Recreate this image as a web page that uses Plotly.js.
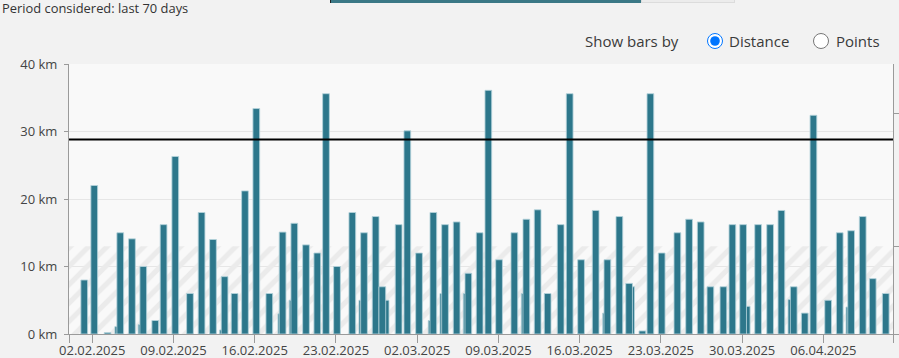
<!DOCTYPE html>
<html>
<head>
<meta charset="utf-8">
<script src="https://cdn.plot.ly/plotly-3.0.1.min.js"></script>
<style>
  html, body { margin:0; padding:0; background:#f2f2f2; }
  #wrap { position:relative; width:899px; height:358px; overflow:hidden; font-family:"Open Sans", sans-serif; }
  #chart { position:absolute; left:0; top:0; width:899px; height:358px; }
  .ov { position:absolute; white-space:nowrap; color:#333; z-index:5; }
  #period { left:2px; top:1px; font-size:12.9px; line-height:14px; color:#333; }
  #prog { left:330px; top:0; width:310px; height:3px; background:#3b7886; border-left:1px solid #222; }
  #prog2 { left:641px; top:0; width:92px; height:2px; background:#ececec; border:1px solid #dcdcdc; border-top:none; }
  #showby { left:585px; top:31px; font-size:15px; line-height:20px; color:#3a3a3a; }
  .radio { position:absolute; z-index:5; margin:0; width:16px; height:16px; }
  #r1 { left:707px; top:33px; }
  #r2 { left:813px; top:33px; }
  #l1 { left:729px; top:31px; font-size:15px; line-height:20px; color:#3a3a3a; }
  #l2 { left:836px; top:31px; font-size:15px; line-height:20px; color:#3a3a3a; }
</style>
</head>
<body>
<div id="wrap">
  <div id="chart"></div>
  <div class="ov" id="period">Period considered: last 70 days</div>
  <div class="ov" id="prog"></div>
  <div class="ov" id="prog2"></div>
  <div class="ov" id="showby">Show bars by</div>
  <input type="radio" class="radio" id="r1" name="mode" checked>
  <div class="ov" id="l1">Distance</div>
  <input type="radio" class="radio" id="r2" name="mode">
  <div class="ov" id="l2">Points</div>
</div>
<script>
// ---- data ----
const mainDates = [
  '2025-02-01 07:32','2025-02-02 04:13','2025-02-03 07:51','2025-02-04 10:00','2025-02-05 10:12',
  '2025-02-06 09:35','2025-02-07 10:24','2025-02-08 03:34','2025-02-09 03:46','2025-02-10 10:10',
  '2025-02-11 10:10','2025-02-12 09:45','2025-02-13 09:45','2025-02-14 06:26','2025-02-15 03:56',
  '2025-02-16 03:19','2025-02-17 06:13','2025-02-18 09:43','2025-02-19 09:55','2025-02-20 10:07',
  '2025-02-21 09:29','2025-02-22 03:29','2025-02-23 02:14','2025-02-24 09:53','2025-02-25 10:05',
  '2025-02-26 10:05','2025-02-26 23:56','2025-02-28 09:39','2025-03-01 03:39','2025-03-02 03:52',
  '2025-03-03 09:26','2025-03-04 09:37','2025-03-05 09:37','2025-03-06 09:49','2025-03-07 09:11',
  '2025-03-08 03:11','2025-03-09 01:19','2025-03-10 08:58','2025-03-11 09:47','2025-03-12 09:09',
  '2025-03-13 05:51','2025-03-14 08:44','2025-03-15 03:22','2025-03-16 02:56','2025-03-17 09:07',
  '2025-03-18 09:20','2025-03-19 10:09','2025-03-20 06:13','2025-03-21 09:44','2025-03-22 02:17',
  '2025-03-23 01:38','2025-03-24 10:06','2025-03-25 10:19','2025-03-26 10:19','2025-03-27 06:23',
  '2025-03-28 09:17','2025-03-29 03:53','2025-03-30 02:01','2025-03-31 09:03','2025-04-01 09:52',
  '2025-04-02 09:14','2025-04-03 10:41','2025-04-04 09:29','2025-04-05 03:26','2025-04-06 09:50',
  '2025-04-07 09:50','2025-04-08 09:24','2025-04-09 09:23','2025-04-10 06:04','2025-04-11 08:58'
];
const mainKm = [
  8, 22, 0.2, 15, 14.1,
  10, 2, 16.2, 26.3, 6,
  18, 14, 8.5, 6, 21.2,
  33.4, 6, 15.1, 16.4, 13.2,
  12, 35.6, 10, 18, 15,
  17.4, 7, 16.2, 30.1, 12,
  18, 16.2, 16.6, 9, 15,
  36.1, 11, 15, 17, 18.4,
  6, 16.2, 35.6, 11, 18.3,
  11, 17.4, 7.5, 0.45, 35.6,
  12, 15, 17, 16.6, 7,
  7, 16.2, 16.2, 16.2, 16.2,
  18.3, 7, 3.1, 32.4, 5,
  15, 15.3, 17.4, 8.2, 6
];
const extraDates = [
  '2025-02-04 05:53','2025-02-06 06:04','2025-02-13 06:26','2025-02-18 07:02','2025-02-19 06:24',
  '2025-02-25 06:34','2025-02-27 06:46','2025-03-03 05:54','2025-03-04 06:06','2025-03-06 06:19',
  '2025-03-11 06:17','2025-03-18 06:39','2025-03-20 10:20','2025-03-30 09:27','2025-04-03 05:56',
  '2025-04-08 05:54'
];
const extraKm = [
  1.1, 1.4, 0.6, 3, 5,
  5, 5, 2, 6, 6,
  6, 3.1, 7, 4.1, 5.1,
  4
];
const averageKm = 28.8;
const bandTopKm = 13;
const rightTicks = [0, 13, 32.6];
const periodRange = ['2025-01-31 00:00', '2025-04-12 00:00'];
const xTickVals = ['2025-01-31','2025-02-02','2025-02-09','2025-02-16','2025-02-23','2025-03-02',
                   '2025-03-09','2025-03-16','2025-03-23','2025-03-30','2025-04-06','2025-04-12'];
const xTickText = ['','02.02.2025','09.02.2025','16.02.2025','23.02.2025','02.03.2025',
                   '09.03.2025','16.03.2025','23.03.2025','30.03.2025','06.04.2025',''];
const yTickVals = [0, 10, 20, 30, 40];
const yTickText = ['0 km','10 km','20 km','30 km','40 km'];

// ---- styling ----
const DAY = 86400000;
const barW = 0.58 * DAY;
const barColor = '#2d778b';
const barLine = {color:'rgba(180,210,218,0.85)', width:1};

const t0 = new Date(periodRange[0].replace(' ','T')+'Z').getTime();
const t1 = new Date(periodRange[1].replace(' ','T')+'Z').getTime();
const mid = new Date((t0+t1)/2).toISOString().slice(0,16).replace('T',' ');

const traces = [
  { // hatched plot band
    type:'bar', x:[mid], y:[bandTopKm], width:[t1-t0],
    marker:{color:'rgba(0,0,0,0)', line:{width:0},
      pattern:{shape:'/', fgcolor:'#ebebeb', bgcolor:'rgba(0,0,0,0)', size:13, solidity:0.4}},
    hoverinfo:'skip', showlegend:false
  },
  {
    type:'bar', x:extraDates, y:extraKm, width:extraDates.map(()=>barW),
    marker:{color:barColor, line:barLine}, hoverinfo:'skip', showlegend:false
  },
  {
    type:'bar', x:mainDates, y:mainKm, width:mainDates.map(()=>barW),
    marker:{color:barColor, line:barLine}, hoverinfo:'skip', showlegend:false
  },
  {
    type:'scatter', mode:'lines', x:periodRange, y:[averageKm, averageKm], xaxis:'x2', yaxis:'y2',
    line:{color:'#000', width:2}, hoverinfo:'skip', showlegend:false, cliponaxis:false
  }
];

const layout = {
  width:899, height:358,
  margin:{l:69, r:6, t:64, b:24},
  paper_bgcolor:'rgba(0,0,0,0)',
  plot_bgcolor:'#f9f9f9',
  barmode:'overlay',
  font:{family:'"Open Sans", sans-serif', size:13, color:'#444'},
  xaxis:{
    type:'date', range:periodRange, tickmode:'array', tickvals:xTickVals, ticktext:xTickText,
    showgrid:false, zeroline:false, showline:true, linecolor:'#9a9a9a', linewidth:1,
    ticks:'outside', ticklen:4, tickcolor:'rgba(0,0,0,0)', tickwidth:1,
    tickfont:{size:13, color:'#444'}
  },
  xaxis2:{
    type:'date', overlaying:'x', anchor:'y', side:'bottom', range:periodRange,
    tickmode:'array', tickvals:xTickVals, showticklabels:false,
    showgrid:false, zeroline:false, showline:false,
    ticks:'outside', ticklen:8, tickcolor:'#9a9a9a', tickwidth:1
  },
  yaxis:{
    range:[0,40], tickmode:'array', tickvals:yTickVals, ticktext:yTickText,
    showgrid:true, gridcolor:'#e6e6e6', gridwidth:1, zeroline:false,
    showline:true, linecolor:'#9a9a9a', linewidth:1,
    ticks:'outside', ticklen:4, tickcolor:'#9a9a9a', ticklabelstandoff:4,
    tickfont:{size:13, color:'#444'}
  },
  yaxis2:{
    overlaying:'y', anchor:'x2', side:'right', range:[0,40], tickmode:'array', tickvals:rightTicks,
    showticklabels:false, showgrid:false, zeroline:false,
    showline:true, linecolor:'#9a9a9a', linewidth:1,
    ticks:'outside', ticklen:6, tickcolor:'#9a9a9a'
  }
};

Plotly.newPlot('chart', traces, layout, {displayModeBar:false, staticPlot:true});
</script>
</body>
</html>
